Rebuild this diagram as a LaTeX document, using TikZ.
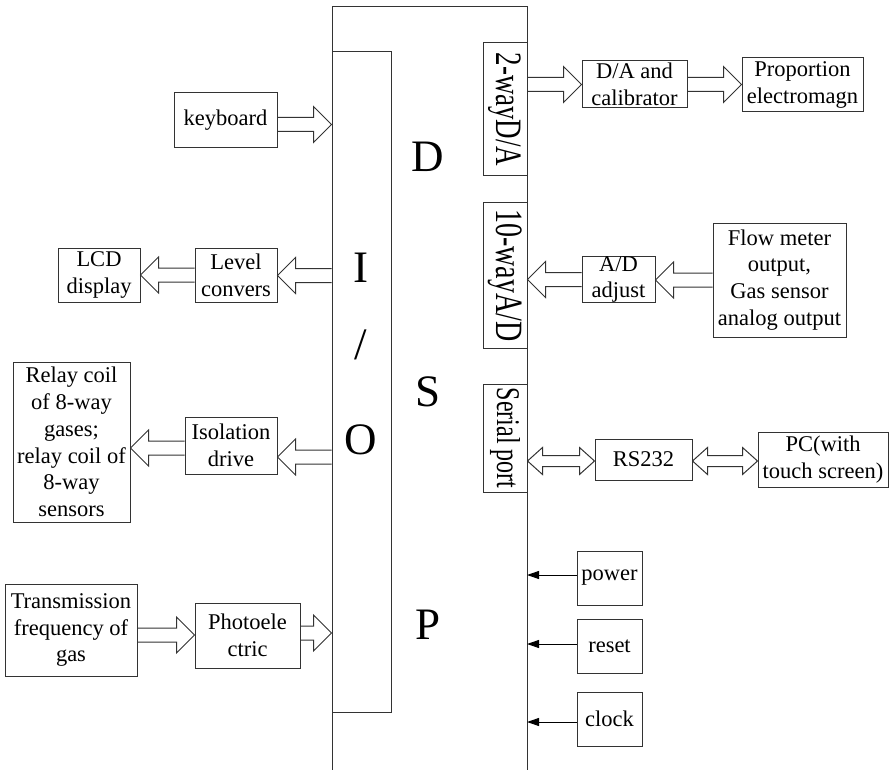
\documentclass[tikz,border=0pt]{standalone}
\usepackage{fontspec}
\setmainfont{Liberation Serif}
\usetikzlibrary{calc,arrows.meta}

\tikzset{
  box/.style={draw=black!80, line width=1pt, inner sep=0pt, align=center,
    font=\fontsize{22.5}{26.8}\selectfont},
  ifbox/.style={box, minimum width=44pt},
  bigletter/.style={font=\fontsize{45}{45}\selectfont, inner sep=0pt},
  frame/.style={draw=black!80, line width=1pt},
  % hollow block arrow, horizontal, from start to target
  blockarrow/.style={frame, to path={
    let \p1=(\tikztostart), \p2=(\tikztotarget),
        \n1={ifthenelse(\x2>\x1,1,-1)} in
    (\x1,\y1+7pt) -- ({\x2-\n1*18pt},\y1+7pt) -- ({\x2-\n1*18pt},\y1+18pt)
    -- (\x2,\y1) -- ({\x2-\n1*18pt},\y1-18pt) -- ({\x2-\n1*18pt},\y1-7pt)
    -- (\x1,\y1-7pt)}},
  % hollow block arrow with heads at both ends
  dblarrow/.style={frame, to path={
    let \p1=(\tikztostart), \p2=(\tikztotarget),
        \n1={ifthenelse(\x2>\x1,1,-1)} in
    (\x1,\y1) -- ({\x1+\n1*15pt},\y1+13.5pt) -- ({\x1+\n1*15pt},\y1+5.5pt)
    -- ({\x2-\n1*15pt},\y1+5.5pt) -- ({\x2-\n1*15pt},\y1+13.5pt) -- (\x2,\y1)
    -- ({\x2-\n1*15pt},\y1-13.5pt) -- ({\x2-\n1*15pt},\y1-5.5pt)
    -- ({\x1+\n1*15pt},\y1-5.5pt) -- ({\x1+\n1*15pt},\y1-13.5pt) -- cycle}},
  sigarrow/.style={draw=black, line width=1pt,
    -{Triangle[length=12pt,width=8pt]}},
}
% text set top to bottom along a narrow interface box
\newcommand{\vlabel}[2]{\rotatebox{-90}{\fontsize{#1}{#1}\selectfont\scalebox{1}[1.38]{#2}}}

\begin{document}
\begin{tikzpicture}[x=1pt, y=-1pt]
\useasboundingbox (0,0) rectangle (891,770);

% DSP body, open at the bottom
\draw[frame] (332,770) -- (332,7) -- (527,7) -- (527,770);
\coordinate (dspL) at (332,7);
\coordinate (dspR) at (527,7);

% I/O column
\node[box, minimum width=59pt, minimum height=660pt] (io) at (361.5,382) {};
\node[bigletter] (lI) at (361,268) {I};
\node[bigletter] (lslash) at (361,345) {/};
\node[bigletter] (lO) at (361,440) {O};

% DSP letters
\node[bigletter] (lD) at (428,157) {D};
\node[bigletter] (lS) at (428,392) {S};
\node[bigletter] (lP) at (428,625) {P};

% DSP interfaces on the right edge
\node[ifbox, minimum height=133pt] (twoDA) at (505,109.5) {\vlabel{27}{2-wayD/A}};
\node[ifbox, minimum height=145pt] (tenAD) at (505,275.5) {\vlabel{28}{10-wayA/D}};
\node[ifbox, minimum height=108pt] (serial) at (505,438) {\vlabel{24}{Serial port}};

% left side blocks
\node[box, minimum width=103pt, minimum height=55pt] (keyboard) at (225.5,120.5) {keyboard};
\node[box, minimum width=82pt, minimum height=54pt] (lcd) at (99,275) {LCD\\display};
\node[box, minimum width=82pt, minimum height=54pt] (level) at (236,275) {Level\\convers};
\node[box, minimum width=117pt, minimum height=160pt] (relay) at (71.5,442)
  {Relay coil\\of 8-way\\gases;\\relay coil of\\8-way\\sensors};
\node[box, minimum width=92pt, minimum height=57pt] (isol) at (231,445.5) {Isolation\\drive};
\node[box, minimum width=132pt, minimum height=92pt] (trans) at (71,630)
  {Transmission\\frequency of\\gas};
\node[box, minimum width=105pt, minimum height=65pt] (photo) at (247.5,635.5) {Photoele\\ctric};

% right side blocks
\node[box, minimum width=105pt, minimum height=47pt] (da) at (634.5,84.5) {D/A and\\calibrator};
\node[box, minimum width=121pt, minimum height=54pt] (prop) at (802.5,85) {Proportion\\electromagn};
\node[box, minimum width=73pt, minimum height=45pt] (adadj) at (618.5,279.5) {A/D\\adjust};
\node[box, minimum width=133pt, minimum height=114pt] (flow) at (779.5,280)
  {Flow meter\\output,\\Gas sensor\\analog output};
\node[box, minimum width=97pt, minimum height=41pt] (rs232) at (643.5,459.5) {RS232};
\node[box, minimum width=130pt, minimum height=55pt] (pc) at (823,459.5) {PC(with\\touch screen)};
\node[box, minimum width=65pt, minimum height=54pt] (power) at (609.5,578) {power};
\node[box, minimum width=65pt, minimum height=54pt] (reset) at (609.5,646) {reset};
\node[box, minimum width=65pt, minimum height=54pt] (clock) at (609.5,719) {clock};

% data paths on the left
\draw[blockarrow] ([yshift=-4pt]keyboard.east) to ([yshift=-4pt]keyboard.east -| io.west);
\draw[blockarrow] ([yshift=-0.5pt]level.east -| io.west) to ([yshift=-0.5pt]level.east);
\draw[blockarrow] (level.west) to (lcd.east);
\draw[blockarrow] ([yshift=-11.5pt]isol.east -| io.west) to ([yshift=-11.5pt]isol.east);
\draw[blockarrow] ([yshift=-2.5pt]isol.west) to ([yshift=-2.5pt]isol.west -| relay.east);
\draw[blockarrow] ([yshift=-5pt]trans.east) to ([yshift=-5pt]trans.east -| photo.west);
\draw[blockarrow] ([yshift=2.5pt]photo.east) to ([yshift=2.5pt]photo.east -| io.west);

% data paths on the right
\draw[blockarrow] (da.west -| twoDA.east) to (da.west);
\draw[blockarrow] (da.east) to (da.east -| prop.west);
\draw[blockarrow] (flow.west) to (flow.west -| adadj.east);
\draw[blockarrow] (adadj.west) to (adadj.west -| tenAD.east);
\draw[dblarrow] ([yshift=-1.5pt]rs232.west -| serial.east) to ([yshift=-1.5pt]rs232.west);
\draw[dblarrow] ([yshift=-1.5pt]rs232.east) to ([yshift=-1.5pt]rs232.east -| pc.west);

% control signals
\draw[sigarrow] ([yshift=3pt]power.west) -- ([yshift=3pt]power.west -| dspR);
\draw[sigarrow] ([yshift=2pt]reset.west) -- ([yshift=2pt]reset.west -| dspR);
\draw[sigarrow] ([yshift=-3pt]clock.west) -- ([yshift=-3pt]clock.west -| dspR);
\end{tikzpicture}
\end{document}
